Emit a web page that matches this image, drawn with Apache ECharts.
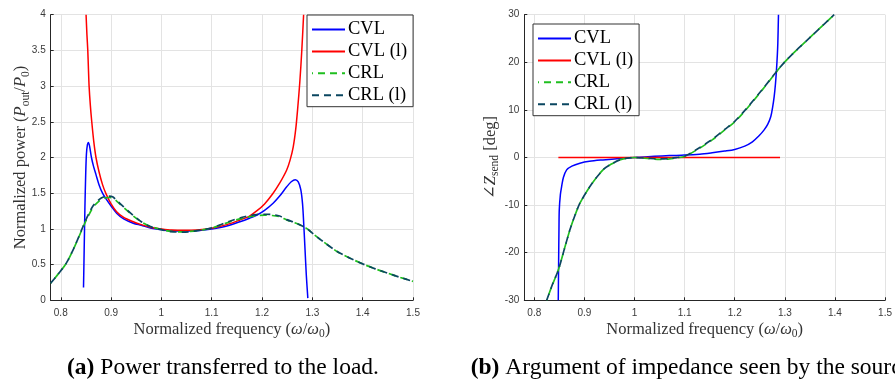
<!DOCTYPE html>
<html>
<head>
<meta charset="utf-8">
<script src="https://cdn.jsdelivr.net/npm/echarts@6/dist/echarts.min.js"></script>
<style>
html,body{margin:0;padding:0;background:#fff;}
#chart{width:895px;height:379px;}
</style>
</head>
<body>
<div id="chart"></div>
<script>
// ---------- data ----------
const seriesNames = ['CVL', 'CVL (l)', 'CRL', 'CRL (l)'];
const xTicks = [0.8, 0.9, 1, 1.1, 1.2, 1.3, 1.4, 1.5];

// (a) normalized power
const cvlPowX = [0.8452, 0.8465, 0.848, 0.8495, 0.851, 0.853, 0.855, 0.8575, 0.861, 0.865, 0.87, 0.876, 0.883, 0.89, 0.9, 0.911, 0.925, 0.944, 0.96, 0.98, 1.0, 1.02, 1.045, 1.07, 1.1, 1.13, 1.156, 1.175, 1.19, 1.205, 1.222, 1.235, 1.249, 1.258, 1.266, 1.272, 1.277, 1.2805, 1.283, 1.2855, 1.288, 1.291];
const cvlPowY = [0.18, 0.7, 1.3, 1.75, 2.05, 2.18, 2.21, 2.15, 2.0, 1.88, 1.76, 1.62, 1.5, 1.42, 1.32, 1.22, 1.14, 1.08, 1.05, 1.01, 0.99, 0.975, 0.97, 0.975, 1.0, 1.04, 1.1, 1.15, 1.195, 1.26, 1.36, 1.46, 1.59, 1.66, 1.69, 1.66, 1.55, 1.35, 1.05, 0.7, 0.35, 0.03];

const cvlLPowX = [0.8503, 0.852, 0.8537, 0.855, 0.8563, 0.8588, 0.8616, 0.8655, 0.870, 0.876, 0.883, 0.89, 0.9, 0.911, 0.925, 0.944, 0.96, 0.98, 1.0, 1.02, 1.045, 1.07, 1.1, 1.13, 1.156, 1.175, 1.19, 1.205, 1.222, 1.235, 1.249, 1.256, 1.262, 1.267, 1.271, 1.275, 1.279, 1.2826];
const cvlLPowY = [4.0, 3.72, 3.5, 3.24, 3.0, 2.73, 2.5, 2.23, 2.0, 1.8, 1.62, 1.49, 1.35, 1.24, 1.16, 1.10, 1.06, 1.02, 1.0, 0.985, 0.98, 0.985, 1.01, 1.06, 1.125, 1.18, 1.255, 1.35, 1.50, 1.64, 1.825, 1.97, 2.15, 2.4, 2.7, 3.05, 3.5, 4.0];

const crlPowX = [0.78, 0.795, 0.811, 0.828, 0.844, 0.854, 0.864, 0.876, 0.886, 0.895, 0.903, 0.911, 0.925, 0.944, 0.96, 0.977, 1.0, 1.02, 1.043, 1.065, 1.08, 1.1, 1.12, 1.143, 1.165, 1.189, 1.205, 1.22, 1.235, 1.249, 1.265, 1.28, 1.29, 1.3, 1.32, 1.35, 1.375, 1.4, 1.425, 1.45, 1.475, 1.5];
const crlPowY = [0.24, 0.37, 0.52, 0.76, 1.02, 1.17, 1.3, 1.39, 1.43, 1.44, 1.43, 1.39, 1.3, 1.18, 1.1, 1.04, 0.99, 0.965, 0.958, 0.97, 0.985, 1.01, 1.06, 1.115, 1.155, 1.185, 1.192, 1.188, 1.17, 1.125, 1.085, 1.04, 1.0, 0.94, 0.83, 0.68, 0.59, 0.51, 0.44, 0.38, 0.32, 0.265];
const crlLPowY = [0.24, 0.37, 0.52, 0.76, 1.03, 1.19, 1.32, 1.41, 1.45, 1.46, 1.45, 1.40, 1.31, 1.19, 1.1, 1.035, 0.99, 0.962, 0.955, 0.968, 0.985, 1.015, 1.065, 1.125, 1.17, 1.2, 1.205, 1.2, 1.18, 1.13, 1.09, 1.04, 1.0, 0.94, 0.83, 0.68, 0.59, 0.51, 0.44, 0.38, 0.32, 0.265];

// (b) argument of impedance [deg]
const cvlAngX = [0.8478, 0.8485, 0.8492, 0.8498, 0.852, 0.8545, 0.858, 0.8645, 0.875, 0.891, 0.91, 0.937, 0.97, 1.0, 1.04, 1.07, 1.1, 1.13, 1.155, 1.18, 1.2, 1.22, 1.2353, 1.248, 1.2587, 1.266, 1.272, 1.2755, 1.2787, 1.2813, 1.2833, 1.285, 1.286, 1.2873];
const cvlAngY = [-30, -22, -15, -11, -7.8, -6.1, -4.2, -2.6, -1.8, -1.2, -0.8, -0.5, -0.2, 0, 0.25, 0.4, 0.5, 0.7, 1.0, 1.35, 1.7, 2.4, 3.3, 4.5, 5.8, 7.0, 8.6, 10.5, 12.8, 15.5, 18.4, 21.5, 24, 30];

const cvlLAngX = [0.848, 1.0, 1.2904];
const cvlLAngY = [0, 0, 0];

const crlAngX = [0.8247, 0.835, 0.848, 0.86, 0.871, 0.881, 0.891, 0.911, 0.937, 0.955, 0.9706, 0.985, 1.0, 1.03, 1.05, 1.07, 1.085, 1.1, 1.1287, 1.155, 1.18, 1.2, 1.222, 1.255, 1.3, 1.355, 1.3985];
const crlAngY = [-30, -27, -23.6, -19.2, -15.2, -12.2, -9.6, -6.1, -2.6, -1.3, -0.5, -0.15, 0, -0.25, -0.4, -0.3, -0.05, 0.2, 1.9, 3.7, 5.8, 7.5, 10, 14.2, 20.1, 25.7, 30];
const crlLAngY = [-30, -27, -23.6, -19.2, -15.2, -12.2, -9.6, -6.1, -2.6, -1.3, -0.5, -0.15, 0, -0.2, -0.3, -0.2, 0.0, 0.25, 2.0, 3.8, 5.9, 7.6, 10.1, 14.3, 20.1, 25.7, 30];

// ---------- helpers ----------
function zip(xs, ys) { return xs.map((x, i) => [x, ys[i]]); }

const serif = '"Liberation Serif", "DejaVu Serif", serif';
const sans = '"Liberation Sans", Arial, sans-serif';
const axisColor = '#262626';
const gridColor = '#e3e3e3';
const labelColor = '#3a3a3a';
const nameSize = 16.5;

const colors = ['#0000ff', '#ff0000', '#1fbf1f', '#0a4660'];

function makeSeries(name, idx, data, colorIdx) {
  const dashed = colorIdx >= 2;
  return {
    name: name,
    type: 'line',
    xAxisIndex: idx,
    yAxisIndex: idx,
    data: data,
    showSymbol: false,
    symbol: 'none',
    smooth: 0.3,
    clip: true,
    animation: false,
    lineStyle: {
      color: colors[colorIdx],
      width: dashed ? 1.7 : 1.5,
      type: dashed ? [7, 5] : 'solid',
      dashOffset: colorIdx === 2 ? 6 : 0
    },
    itemStyle: { color: colors[colorIdx] }
  };
}

const richName = {
  i: { fontStyle: 'italic', fontFamily: serif, fontSize: nameSize, lineHeight: 22, color: '#333' },
  s: { fontFamily: serif, fontSize: 11.5, verticalAlign: 'bottom', color: '#333' }
};

function xAxisDef(gridIndex) {
  return {
    type: 'value',
    gridIndex: gridIndex,
    min: 0.78,
    max: 1.5,
    name: 'Normalized frequency ({i|ω}/{i|ω}{s|0})',
    nameLocation: 'middle',
    nameGap: 18,
    nameMoveOverlap: false,
    nameTextStyle: { fontFamily: serif, fontSize: nameSize, lineHeight: 22, color: '#333', rich: richName },
    axisLine: { show: true, onZero: false, lineStyle: { color: axisColor, width: 1 } },
    axisTick: { show: true, inside: true, length: 3, lineStyle: { color: axisColor }, customValues: xTicks },
    axisLabel: { customValues: xTicks, fontFamily: sans, fontSize: 10, color: labelColor, margin: 8 },
    splitLine: { show: true, lineStyle: { color: gridColor, width: 1 } }
  };
}

function yAxisDef(gridIndex, min, max, interval, name, gap) {
  return {
    type: 'value',
    gridIndex: gridIndex,
    min: min,
    max: max,
    interval: interval,
    name: name,
    nameLocation: 'middle',
    nameGap: gap,
    nameMoveOverlap: false,
    nameTextStyle: { fontFamily: serif, fontSize: nameSize, lineHeight: 22, color: '#333', rich: richName },
    axisLine: { show: true, onZero: false, lineStyle: { color: axisColor, width: 1 } },
    axisTick: { show: true, inside: true, length: 3, lineStyle: { color: axisColor } },
    axisLabel: { fontFamily: sans, fontSize: 10, color: labelColor, margin: 5 },
    splitLine: { show: true, lineStyle: { color: gridColor, width: 1 } }
  };
}

function legendDef(left, top) {
  return {
    left: left,
    top: top,
    orient: 'vertical',
    data: seriesNames,
    itemWidth: 33,
    itemHeight: 14,
    itemGap: 2.9,
    padding: [5, 6, 2, 4],
    borderColor: '#333',
    borderWidth: 1,
    borderRadius: 0,
    backgroundColor: '#fff',
    selectedMode: false,
    itemStyle: { opacity: 0 },
    textStyle: { fontFamily: serif, fontSize: 18.5, color: '#000', lineHeight: 14, padding: [0, 0, 0, -2] }
  };
}

const option = {
  animation: false,
  backgroundColor: '#fff',
  grid: [
    { left: 50.7, top: 14.7, width: 362.3, height: 285.6, containLabel: false },
    { left: 524.3, top: 14.7, width: 361.7, height: 285.6, containLabel: false }
  ],
  xAxis: [xAxisDef(0), xAxisDef(1)],
  yAxis: [
    yAxisDef(0, 0, 4, 0.5, 'Normalized power ({i|P}{s|out}/{i|P}{s|0})', 19),
    yAxisDef(1, -30, 30, 10, '∠{i|Z}{s|send} [deg]', 23)
  ],
  legend: [legendDef(307, 15), legendDef(533, 24)],
  series: [
    makeSeries('CVL', 0, zip(cvlPowX, cvlPowY), 0),
    makeSeries('CVL (l)', 0, zip(cvlLPowX, cvlLPowY), 1),
    makeSeries('CRL', 0, zip(crlPowX, crlPowY), 2),
    makeSeries('CRL (l)', 0, zip(crlPowX, crlLPowY), 3),
    makeSeries('CVL', 1, zip(cvlAngX, cvlAngY), 0),
    makeSeries('CVL (l)', 1, zip(cvlLAngX, cvlLAngY), 1),
    makeSeries('CRL', 1, zip(crlAngX, crlAngY), 2),
    makeSeries('CRL (l)', 1, zip(crlAngX, crlLAngY), 3)
  ],
  graphic: [
    {
      type: 'text', x: 223, y: 368,
      style: {
        text: '{b|(a)} Power transferred to the load.',
        fontFamily: serif, fontSize: 23.5, fill: '#000',
        align: 'center', verticalAlign: 'middle',
        rich: { b: { fontFamily: serif, fontSize: 23.5, fontWeight: 'bold', fill: '#000' } }
      }
    },
    {
      type: 'text', x: 470.7, y: 368,
      style: {
        text: '{b|(b)} Argument of impedance seen by the source.',
        fontFamily: serif, fontSize: 23.5, fill: '#000',
        align: 'left', verticalAlign: 'middle',
        rich: { b: { fontFamily: serif, fontSize: 23.5, fontWeight: 'bold', fill: '#000' } }
      }
    }
  ]
};

const chart = echarts.init(document.getElementById('chart'), null, { renderer: 'canvas' });
chart.setOption(option);
</script>
</body>
</html>
